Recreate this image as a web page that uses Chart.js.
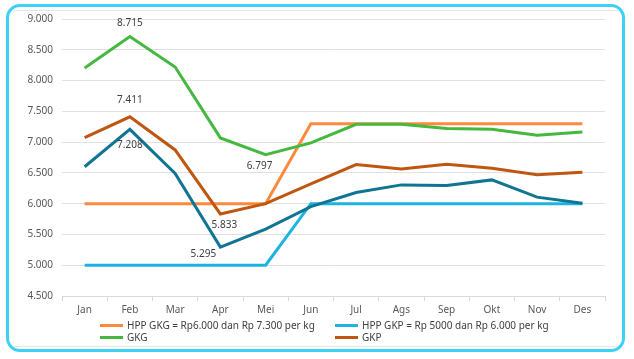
<!DOCTYPE html>
<html>
<head>
<meta charset="utf-8">
<script src="https://cdn.jsdelivr.net/npm/chart.js@4"></script>
<style>
  html, body { margin:0; padding:0; background:#fff; }
  #wrap { position:relative; width:634px; height:359px; overflow:hidden; font-family:"Noto Sans", sans-serif; }
  #frame { position:absolute; left:6px; top:4px; width:613px; height:342px; border:3.5px solid #3FD0F5; border-radius:14px; }
  #inner { position:absolute; left:14px; top:10px; width:604px; height:335px; border-top:1px solid #E6E6E6; border-bottom:1px solid #E6E6E6; }
  canvas { position:absolute; left:0; top:0; }
  .leg { position:absolute; font-size:10px; color:#404040; white-space:nowrap; line-height:12px; }
  .leg i { display:inline-block; width:23px; height:3px; vertical-align:middle; margin-right:4px; position:relative; top:-1px; }
</style>
</head>
<body>
<div id="wrap">
  <div id="frame"></div>
  <div id="inner"></div>
  <canvas id="c" width="634" height="359"></canvas>
  <div id="legend"></div>
</div>
<script>
const months = ["Jan","Feb","Mar","Apr","Mei","Jun","Jul","Ags","Sep","Okt","Nov","Des"];
const hppGKG = [6000,6000,6000,6000,6000,7300,7300,7300,7300,7300,7300,7300];
const hppGKP = [5000,5000,5000,5000,5000,6000,6000,6000,6000,6000,6000,6000];
const gkg    = [8205,8715,8220,7068,6797,6987,7290,7290,7220,7210,7110,7165];
const gkp    = [7073,7411,6873,5833,6000,6320,6635,6565,6640,6575,6470,6510];
const gkpTeal= [6600,7208,6490,5295,5586,5953,6180,6305,6294,6386,6106,6008];
const seriesNames = ["HPP GKG = Rp6.000 dan Rp 7.300 per kg","HPP GKP = Rp 5000 dan Rp 6.000 per kg","GKG","GKP","GKP (2)"];
const colors = ["#FF8A3D","#1DB4E2","#45B83F","#BF5710","#0F7592"];
const yMin = 4500, yMax = 9000, yStep = 500;

function fmt(v){ return String(Math.round(v)).replace(/\B(?=(\d{3})+(?!\d))/g, "."); }

// data labels: dataset index, point index, offset
const labelSpecs = [
  {ds:2, i:1, dx:0, dy:-13},
  {ds:3, i:1, dx:0, dy:-17},
  {ds:4, i:1, dx:0, dy:16},
  {ds:2, i:4, dx:-6, dy:12},
  {ds:3, i:3, dx:4, dy:11},
  {ds:4, i:3, dx:-17, dy:7}
];

const labelPlugin = {
  id:'lbls',
  afterDatasetsDraw(chart){
    const ctx = chart.ctx;
    ctx.save();
    ctx.font = '10px "Noto Sans"';
    ctx.fillStyle = '#404040';
    ctx.textAlign = 'center';
    ctx.textBaseline = 'middle';
    labelSpecs.forEach(s=>{
      const p = chart.getDatasetMeta(s.ds).data[s.i];
      const v = chart.data.datasets[s.ds].data[s.i];
      ctx.fillText(fmt(v), p.x + s.dx, p.y + s.dy);
    });
    ctx.restore();
  }
};

const seriesData = [hppGKG, hppGKP, gkg, gkp, gkpTeal];
const order = [4,3,2,1,0];
const datasets = seriesData.map((d,k)=>({
  label: seriesNames[k], data: d, borderColor: colors[k], backgroundColor: colors[k],
  borderWidth: 3, pointRadius: 0, tension: 0, fill:false, order: order[k]
}));

new Chart(document.getElementById('c'), {
  type:'line',
  data:{ labels: months, datasets },
  options:{
    responsive:false, animation:false,
    layout:{ padding:{ left:10, right:29, top:19, bottom:41 } },
    plugins:{ legend:{display:false}, tooltip:{enabled:false} },
    scales:{
      x:{
        offset:true,
        grid:{ offset:true, drawOnChartArea:false, color:'#D9D9D9', tickLength:5 },
        border:{ color:'#D9D9D9' },
        ticks:{ color:'#595959', font:{ family:'Noto Sans', size:10 }, padding:3, maxRotation:0 },
        afterFit(s){ s.height = 22; }
      },
      y:{
        min:yMin, max:yMax,
        grid:{ color:'#E0E0E0', drawTicks:false },
        border:{ display:false },
        ticks:{ stepSize:yStep, color:'#595959', font:{ family:'Noto Sans', size:10 }, padding:9, callback:v=>fmt(v) },
        afterFit(s){ s.width = 52; }
      }
    }
  },
  plugins:[labelPlugin]
});

// legend
const legPos = [[100,319],[335,319],[100,331],[335,331]];
const legEl = document.getElementById('legend');
for (let k=0;k<4;k++){
  const d = document.createElement('div');
  d.className='leg';
  d.style.left = legPos[k][0]+'px'; d.style.top = legPos[k][1]+'px';
  d.innerHTML = '<i style="background:'+colors[k]+'"></i>';
  d.appendChild(document.createTextNode(seriesNames[k]));
  legEl.appendChild(d);
}
</script>
</body>
</html>
